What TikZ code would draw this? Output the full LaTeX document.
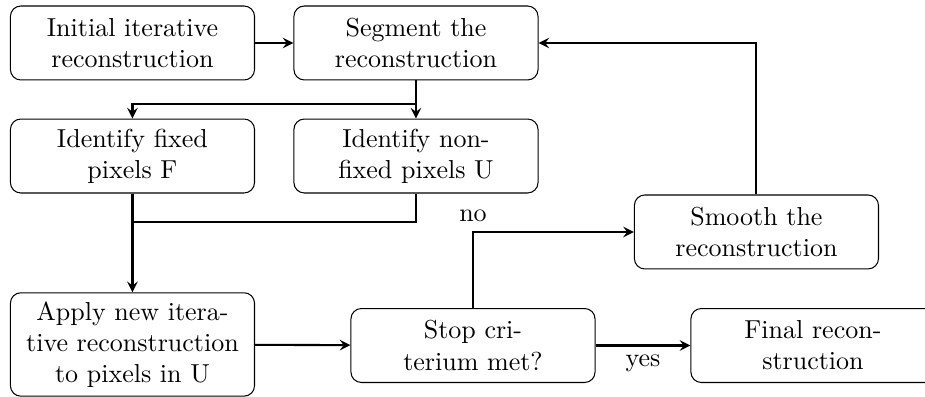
\documentclass[tikz,border=0pt]{standalone}
\usepackage{tikz}
\usetikzlibrary{positioning}

\begin{document}
\begin{tikzpicture}[
  box/.style={draw, rounded corners, minimum width=3.3cm, minimum height=1cm,
              align=center},
  arr/.style={->, >=stealth, thick},
  lne/.style={thick}
]
  \useasboundingbox (-1.791,0.581) rectangle (10.715,-4.786);

  \node[box] (init) at (0,0) {Initial iterative\\ reconstruction};
  \node[box] (seg) at (3.833,0) {Segment the\\ reconstruction};
  \node[box] (fixed) at (0,-1.528) {Identify fixed\\ pixels F};
  \node[box] (nonfixed) at (3.833,-1.528) {Identify non-\\ fixed pixels U};
  \node[box] (apply) at (0,-4.076) {Apply new itera-\\ tive reconstruction\\ to pixels in U};
  \node[box] (stop) at (4.604,-4.090) {Stop cri-\\ terium met?};
  \node[box] (smooth) at (8.436,-2.555) {Smooth the\\ reconstruction};
  \node[box] (final) at (9.200,-4.090) {Final recon-\\ struction};

  \coordinate[below=0.32cm of seg.south] (split);
  \coordinate[below=0.39cm of fixed.south] (merge);

  \draw[arr] (init) -- (seg);
  \draw[arr] (seg.south) -- (nonfixed.north);
  \draw[arr] (split) -| (fixed.north);
  \draw[lne] (nonfixed.south) |- (merge);
  \draw[arr] (fixed.south) -- (apply.north);
  \draw[arr] (apply) -- (stop);
  \draw[arr] (stop.north) |- node[pos=0.5, above] {no} (smooth.west);
  \draw[arr] (stop) -- node[below] {yes} (final);
  \draw[arr] (smooth.north) |- (seg.east);
\end{tikzpicture}
\end{document}
